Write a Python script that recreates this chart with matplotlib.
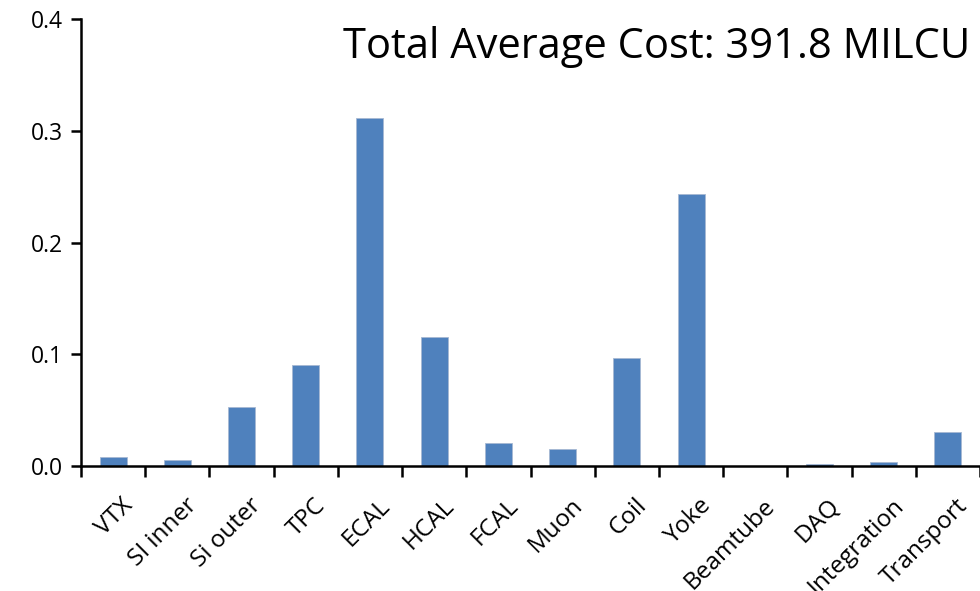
import numpy as np
import matplotlib.pyplot as plt
import matplotlib.transforms as mtransforms

plt.rcParams['font.family'] = ['Open Sans', 'DejaVu Sans']

# ---- data ----
categories = ["VTX", "SI inner", "Si outer", "TPC", "ECAL", "HCAL", "FCAL",
              "Muon", "Coil", "Yoke", "Beamtube", "DAQ", "Integration", "Transport"]
cost_share = [0.008, 0.005, 0.053, 0.090, 0.311, 0.115, 0.021,
              0.015, 0.097, 0.243, 0.0003, 0.002, 0.0035, 0.030]
yticks = [0.0, 0.1, 0.2, 0.3, 0.4]
title_text = "Total Average Cost: 391.8 MILCU"

fig = plt.figure(figsize=(9.8, 5.91), dpi=100)
ax = fig.add_axes([81 / 980, 1 - 466 / 591, 1 - 81 / 980, (466 - 19) / 591])

x = np.arange(len(categories))
ax.bar(x, cost_share, width=0.42, color="#4F81BD", edgecolor="#A7B9D3", linewidth=0.6)

ax.set_xlim(-0.5, len(categories) - 0.5)
ax.set_ylim(0, 0.4)
ax.set_yticks(yticks)
ax.set_yticklabels([f"{v:.1f}" for v in yticks], fontsize=16.5)

# category labels at the centres, tick marks at the boundaries
ax.set_xticks(x)
ax.set_xticklabels(categories, rotation=45, ha="right", va="top",
                   rotation_mode="anchor", fontsize=17.5)
ax.tick_params(axis="x", which="major", length=0, pad=20)
shift = mtransforms.ScaledTranslation(8 / 100, 0, fig.dpi_scale_trans)
for lbl in ax.get_xticklabels():
    lbl.set_transform(lbl.get_transform() + shift)
ax.set_xticks(np.arange(-0.5, len(categories), 1), minor=True)
ax.tick_params(axis="x", which="minor", length=8, width=1.8, direction="out")
ax.tick_params(axis="y", length=7, width=1.8, direction="out", pad=6)

for side in ["top", "right"]:
    ax.spines[side].set_visible(False)
for side in ["left", "bottom"]:
    ax.spines[side].set_linewidth(1.8)

fig.text(0.99, 1 - 58 / 591, title_text, ha="right", va="baseline", fontsize=30)

fig.savefig("out.png", dpi=100)
